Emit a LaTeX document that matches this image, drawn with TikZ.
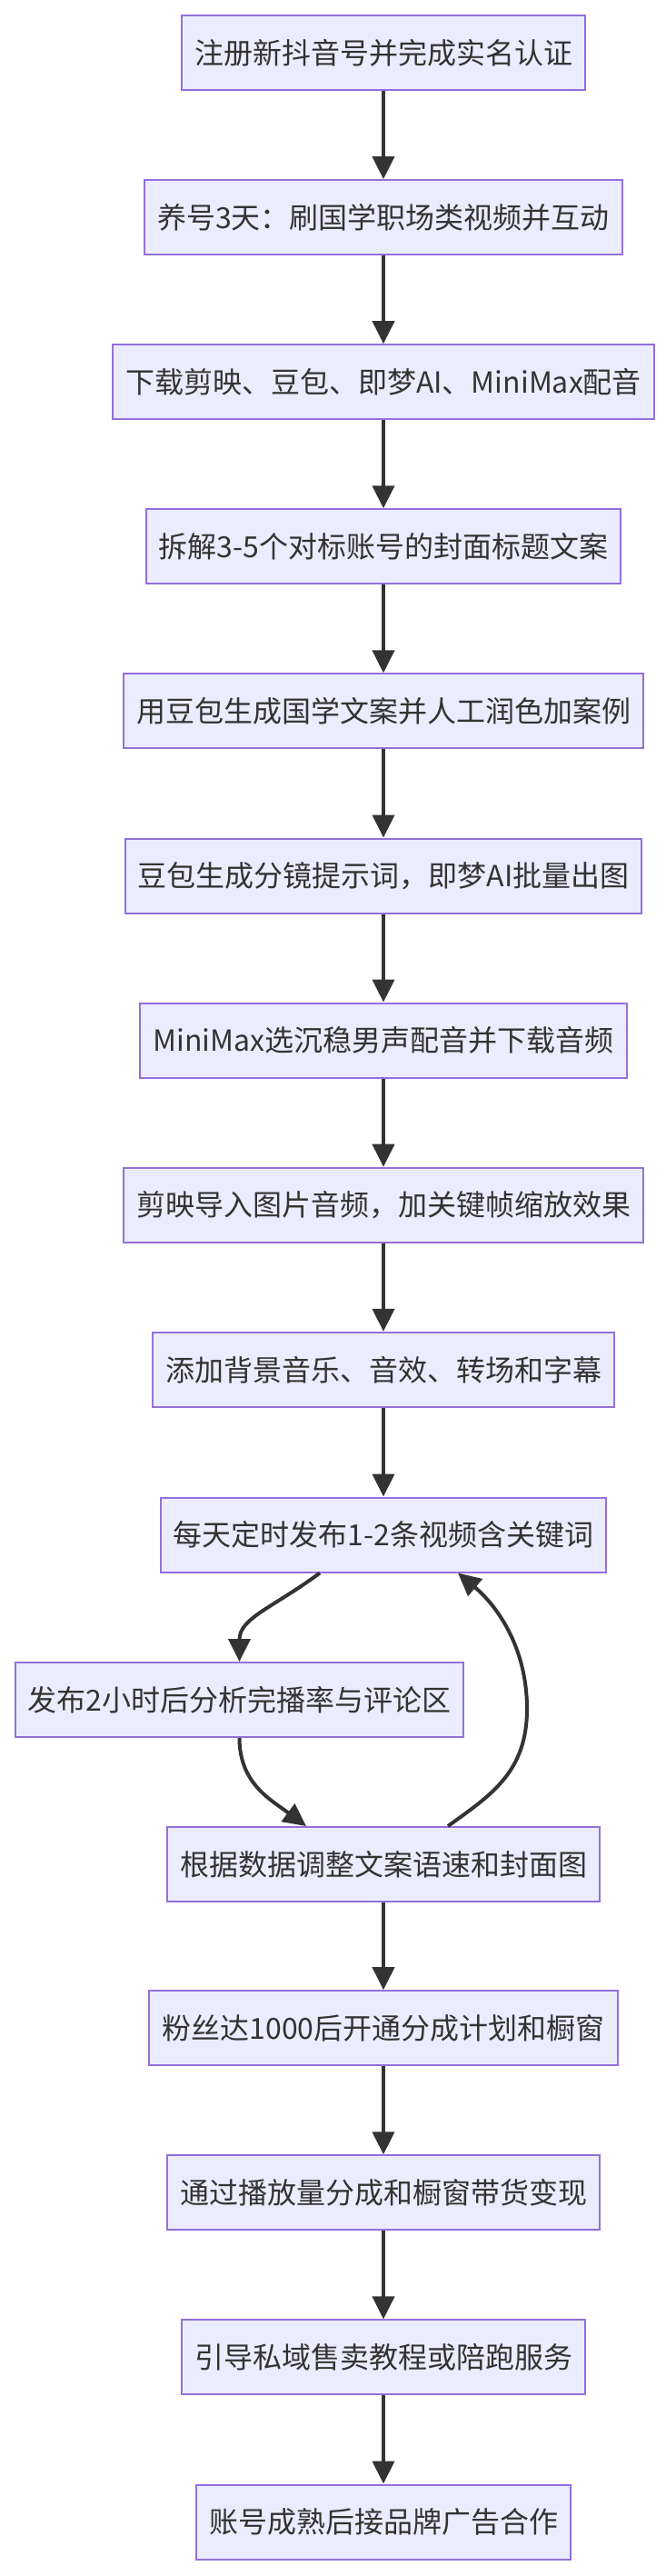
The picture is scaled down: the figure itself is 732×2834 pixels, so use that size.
\documentclass[tikz,border=0pt]{standalone}
\usepackage{fontspec}
\newfontfamily\cjk{Noto Sans CJK SC}
\usetikzlibrary{arrows.meta}
\definecolor{boxfill}{HTML}{ECECFF}
\definecolor{boxdraw}{HTML}{9370DB}
\definecolor{ink}{HTML}{333333}
\tikzset{
  stepbox/.style={draw=boxdraw, fill=boxfill, line width=2pt, text=ink,
    font=\cjk\fontsize{32pt}{36pt}\selectfont, inner xsep=14pt, inner ysep=0pt,
    minimum height=82pt, anchor=center},
  edge/.style={draw=ink, line width=4pt, -{Triangle[length=25pt,width=24pt]}}
}
\begin{document}
\begin{tikzpicture}[x=1pt,y=-1pt]
\useasboundingbox (0,0) rectangle (732,2834);
\node[stepbox] (n1)  at (422, 58.0) {注册新抖音号并完成实名认证};
\node[stepbox] (n2)  at (422, 239.1) {养号3天：刷国学职场类视频并互动};
\node[stepbox] (n3)  at (422, 420.2) {下载剪映、豆包、即梦AI、MiniMax配音};
\node[stepbox] (n4)  at (422, 601.3) {拆解3-5个对标账号的封面标题文案};
\node[stepbox] (n5)  at (422, 782.4) {用豆包生成国学文案并人工润色加案例};
\node[stepbox] (n6)  at (422, 963.5) {豆包生成分镜提示词，即梦AI批量出图};
\node[stepbox] (n7)  at (422, 1144.6) {MiniMax选沉稳男声配音并下载音频};
\node[stepbox] (n8)  at (422, 1325.7) {剪映导入图片音频，加关键帧缩放效果};
\node[stepbox] (n9)  at (422, 1506.8) {添加背景音乐、音效、转场和字幕};
\node[stepbox] (n10) at (422, 1688.5) {每天定时发布1-2条视频含关键词};
\node[stepbox] (n11) at (263.5, 1870.0) {发布2小时后分析完播率与评论区};
\node[stepbox] (n12) at (422, 2051.0) {根据数据调整文案语速和封面图};
\node[stepbox] (n13) at (422, 2231.2) {粉丝达1000后开通分成计划和橱窗};
\node[stepbox] (n14) at (422, 2412.3) {通过播放量分成和橱窗带货变现};
\node[stepbox] (n15) at (422, 2593.4) {引导私域售卖教程或陪跑服务};
\node[stepbox] (n16) at (422, 2774.5) {账号成熟后接品牌广告合作};

\foreach \a/\b in {n1/n2,n2/n3,n3/n4,n4/n5,n5/n6,n6/n7,n7/n8,n8/n9,n9/n10,n12/n13,n13/n14,n14/n15,n15/n16}
  \draw[edge] (\a.south) -- (\b.north);

\coordinate (s10) at ([xshift=-70pt]n10.south);
\coordinate (e12a) at ([xshift=-85pt]n12.north);
\coordinate (s12b) at ([xshift=71pt]n12.north);
\coordinate (e10b) at ([xshift=82pt]n10.south);
\coordinate (m1) at (580,1880);
\draw[edge] (s10) .. controls (300,1769) and (263.5,1780) .. (n11.north);
\draw[edge] (n11.south) .. controls (263.5,1962) and (298,1980) .. (e12a);
\draw[edge] (s12b) .. controls (540,1975) and (580,1950) .. (m1)
  .. controls (580,1810) and (545,1765) .. (e10b);
\end{tikzpicture}
\end{document}
